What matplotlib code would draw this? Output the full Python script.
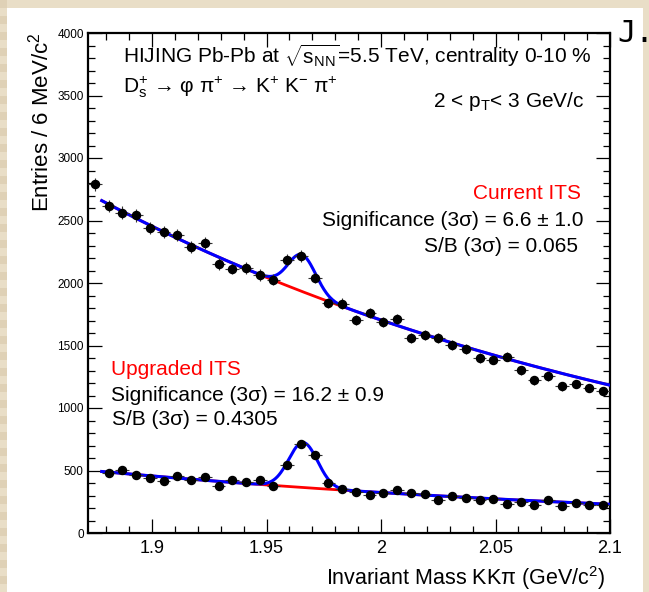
import numpy as np
import matplotlib
matplotlib.use("Agg")
import matplotlib.pyplot as plt
from matplotlib.patches import Rectangle
from matplotlib.ticker import MultipleLocator, FuncFormatter

plt.rcParams['font.family'] = ['Liberation Sans', 'DejaVu Sans']
plt.rcParams['mathtext.fontset'] = 'custom'
plt.rcParams['mathtext.rm'] = 'Liberation Sans'
plt.rcParams['mathtext.it'] = 'Liberation Sans:italic'
plt.rcParams['mathtext.bf'] = 'Liberation Sans:bold'

# Invariant-mass histogram: 38 bins of 6 MeV/c^2 in [1.872, 2.100] GeV/c^2
mass_lo, mass_hi, bin_width = 1.872, 2.100, 0.006
n_bins = 38
bin_centers = mass_lo + bin_width * (np.arange(n_bins) + 0.5)

# Entries per bin, current ITS (all 38 bins)
current_its = [2790, 2616, 2563, 2541, 2442, 2410, 2381, 2290, 2322, 2154,
               2114, 2119, 2064, 2028, 2183, 2215, 2042, 1841, 1836, 1705,
               1761, 1686, 1713, 1557, 1587, 1561, 1504, 1473, 1400, 1387,
               1410, 1301, 1221, 1253, 1173, 1193, 1160, 1136]

# Entries per bin, upgraded ITS (first bin empty, starts at 1.881)
upgraded_its = [478, 505, 468, 438, 419, 454, 428, 451, 377, 422,
                411, 422, 377, 548, 713, 622, 400, 354, 327, 303,
                320, 345, 320, 315, 265, 299, 280, 262, 273, 232,
                247, 221, 268, 219, 242, 222, 223]

# Fit results: exponential background + gaussian signal
fit_ref = 1.881
fit_lo, fit_hi = 1.878, 2.100
cur_bkg_norm, cur_bkg_slope = 2630.0, 3.65
cur_sig_amp, cur_sig_mean, cur_sig_sigma = 294.0, 1.9655, 0.0060
upg_bkg_norm, upg_bkg_slope = 487.0, 3.43
upg_sig_amp, upg_sig_mean, upg_sig_sigma = 360.0, 1.9660, 0.0063

yticks = [0, 500, 1000, 1500, 2000, 2500, 3000, 3500, 4000]
xticks = [1.9, 1.95, 2.0, 2.05, 2.1]


def background(m, norm, slope):
    return norm * np.exp(-slope * (m - fit_ref))


def signal(m, amp, mean, sigma):
    return amp * np.exp(-0.5 * ((m - mean) / sigma) ** 2)


W, H = 649, 592
fig = plt.figure(figsize=(W / 100, H / 100), dpi=100)
fig.patch.set_facecolor('#e9dec7')

# striped beige border and white page
for yy in range(0, H, 16):
    fig.patches.append(Rectangle((0, 1 - (yy + 8) / H), 7 / W, 8 / H,
                                 transform=fig.transFigure,
                                 facecolor='#dfd1b6', edgecolor='none', zorder=-5))
fig.patches.append(Rectangle((7 / W, 0), (643 - 7) / W, (H - 8) / H,
                             transform=fig.transFigure,
                             facecolor='white', edgecolor='none', zorder=-5))


def px(x, y):
    return x / W, 1 - y / H


ax = fig.add_axes([88 / W, (H - 533) / H, (610 - 88) / W, (533 - 33) / H])
ax.set_facecolor('white')
ax.set_zorder(1)

m = np.linspace(fit_lo, fit_hi, 600)

# current ITS
bkg_c = background(m, cur_bkg_norm, cur_bkg_slope)
ax.plot(m, bkg_c, color='#ff0000', lw=2.0, zorder=2)
ax.plot(m, bkg_c + signal(m, cur_sig_amp, cur_sig_mean, cur_sig_sigma),
        color='#0000ff', lw=2.2, zorder=3)
cur = np.array(current_its, dtype=float)
ax.errorbar(bin_centers, cur, xerr=bin_width / 2, yerr=np.sqrt(cur),
            fmt='o', color='black', ms=5.8, ecolor='#333333',
            elinewidth=0.8, capsize=0, zorder=4)

# upgraded ITS
m_up = bin_centers[1:]
bkg_u = background(m, upg_bkg_norm, upg_bkg_slope)
ax.plot(m, bkg_u, color='#ff0000', lw=2.0, zorder=2)
ax.plot(m, bkg_u + signal(m, upg_sig_amp, upg_sig_mean, upg_sig_sigma),
        color='#0000ff', lw=2.2, zorder=3)
upg = np.array(upgraded_its, dtype=float)
ax.errorbar(m_up, upg, xerr=bin_width / 2, yerr=np.sqrt(upg),
            fmt='o', color='black', ms=5.8, ecolor='#333333',
            elinewidth=0.8, capsize=0, zorder=4)

ax.set_xlim(mass_lo, mass_hi)
ax.set_ylim(0, 4000)
ax.set_xticks(xticks)
ax.set_yticks(yticks)
ax.xaxis.set_minor_locator(MultipleLocator(0.01))
ax.yaxis.set_minor_locator(MultipleLocator(100))
ax.xaxis.set_major_formatter(FuncFormatter(lambda v, p: '%g' % round(v, 3)))
ax.yaxis.set_major_formatter(FuncFormatter(lambda v, p: '%d' % v))
ax.tick_params(which='both', direction='in', top=True, right=True, width=0.9)
ax.tick_params(which='major', length=10)
ax.tick_params(which='minor', length=5)
ax.tick_params(axis='x', labelsize=13, pad=5)
ax.tick_params(axis='y', labelsize=8.5, pad=3)
for s in ax.spines.values():
    s.set_linewidth(1.6)

# axis titles
fig.text(*px(605, 585), 'Invariant Mass KKπ (GeV/c$^{2}$)', ha='right',
         va='baseline', fontsize=15.5)
fig.text(*px(49, 33), 'Entries / 6 MeV/c$^{2}$', rotation=90, ha='right',
         va='baseline', fontsize=16, rotation_mode='anchor')

fs = 15
fig.text(*px(123, 63), r'HIJING Pb-Pb at $\sqrt{\mathrm{s_{NN}}}$=5.5 TeV, centrality 0-10 %',
         ha='left', va='baseline', fontsize=fs, zorder=5)
fig.text(*px(123, 93), r'$\mathrm{D_{s}^{+}}$ → φ π$^{+}$ → K$^{+}$ K$^{-}$ π$^{+}$',
         ha='left', va='baseline', fontsize=fs, zorder=5)
fig.text(*px(585, 107), r'2 < p$_{\mathrm{T}}$< 3 GeV/c',
         ha='right', va='baseline', fontsize=fs, zorder=5)

fig.text(*px(581, 199), 'Current ITS', color='#ff0000',
         ha='right', va='baseline', fontsize=fs, zorder=5)
fig.text(*px(583, 226), 'Significance (3σ) = 6.6 ± 1.0',
         ha='right', va='baseline', fontsize=fs, zorder=5)
fig.text(*px(578, 252), 'S/B (3σ) = 0.065',
         ha='right', va='baseline', fontsize=fs, zorder=5)

fig.text(*px(111, 375), 'Upgraded ITS', color='#ff0000',
         ha='left', va='baseline', fontsize=fs, zorder=5)
fig.text(*px(111, 401), 'Significance (3σ) = 16.2 ± 0.9',
         ha='left', va='baseline', fontsize=fs, zorder=5)
fig.text(*px(112, 425), 'S/B (3σ) = 0.4305',
         ha='left', va='baseline', fontsize=fs, zorder=5)

fig.text(*px(617, 42), 'J.', family='DejaVu Sans Mono', fontsize=22,
         ha='left', va='baseline', color='black')

fig.savefig('out.png', dpi=100, facecolor=fig.get_facecolor())
